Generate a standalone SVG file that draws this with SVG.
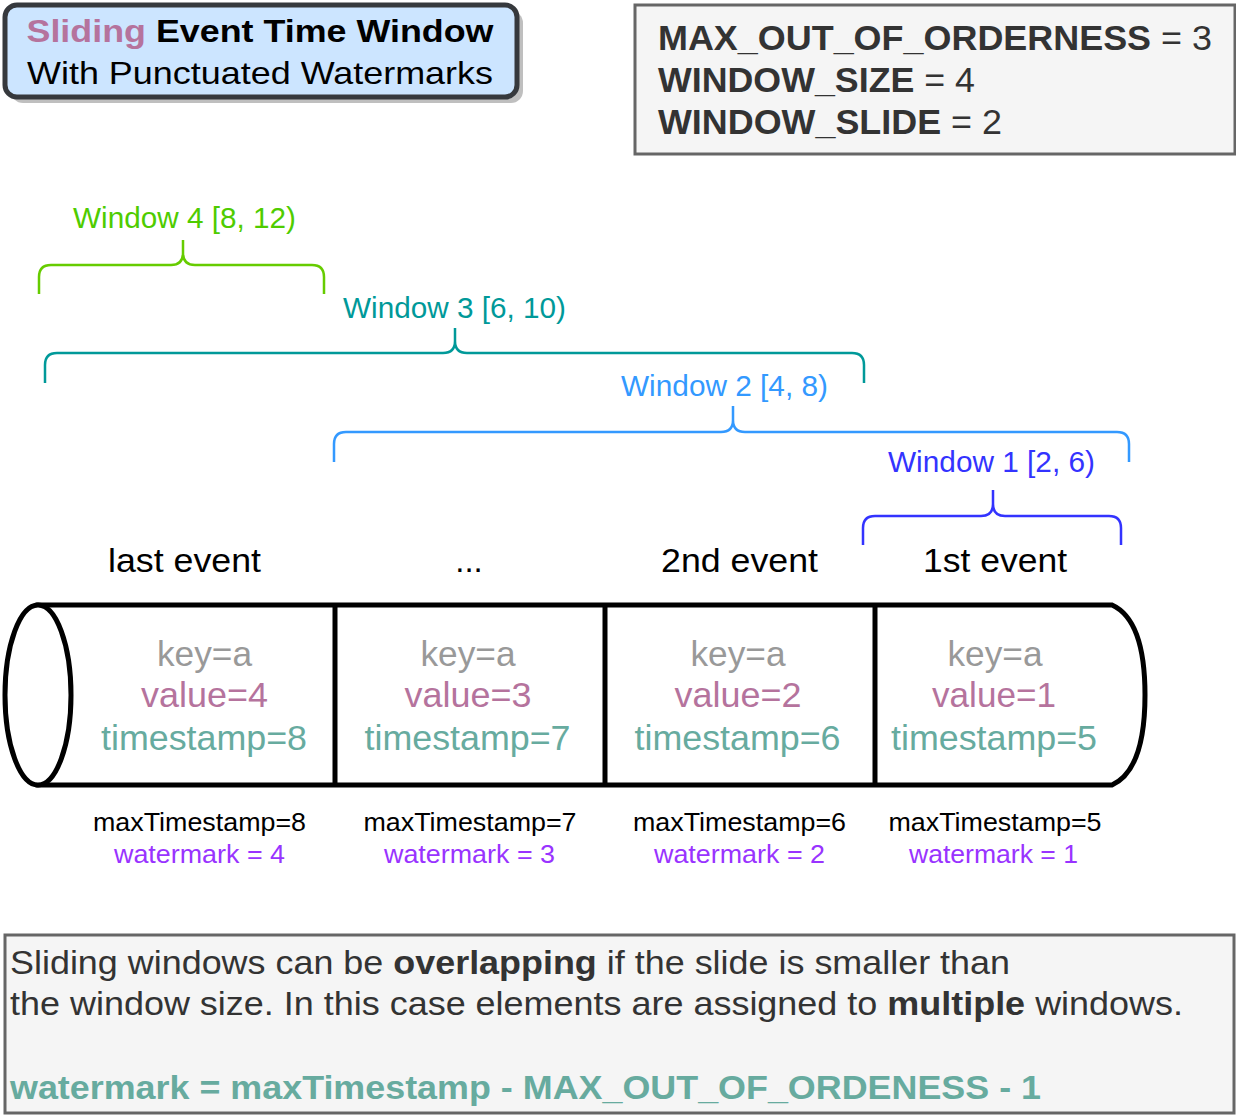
<svg xmlns="http://www.w3.org/2000/svg" width="1236" height="1116" viewBox="0 0 1236 1116">
<style>
text{font-family:"Liberation Sans",Arial,sans-serif}
.brace{fill:none;stroke-width:2.5;stroke-linecap:butt}
.wl{font-size:29px;text-anchor:middle}
.ev{font-size:33px;text-anchor:middle;fill:#000}
.cell{font-size:35px;text-anchor:middle}
.key{fill:#999999}
.val{fill:#B5739D}
.ts{fill:#67AB9F}
.mx{font-size:25px;text-anchor:middle;fill:#000}
.wm{font-size:25px;text-anchor:middle;fill:#9933FF}
.box{fill:#f5f5f5;stroke:#666666;stroke-width:3}
.dark{fill:#333333}
.cyl{fill:#ffffff;stroke:#000;stroke-width:5}
</style>
<rect width="1236" height="1116" fill="#ffffff"/>
<g id="title">
<rect x="11" y="11" width="512" height="92" rx="12" fill="#000" opacity="0.25"/>
<rect x="5" y="5" width="512" height="92" rx="12" fill="#cce5ff" stroke="#36393d" stroke-width="5"/>
<text x="260" y="42" text-anchor="middle" font-size="32" font-weight="bold" textLength="467" lengthAdjust="spacingAndGlyphs"><tspan fill="#B5739D">Sliding</tspan><tspan fill="#000"> Event Time Window</tspan></text>
<text x="260" y="84" text-anchor="middle" font-size="32" fill="#000" textLength="466" lengthAdjust="spacingAndGlyphs">With Punctuated Watermarks</text>
</g>
<g id="params">
<rect class="box" x="635" y="5" width="600" height="149"/>
<text class="dark" x="658" y="50" font-size="35" textLength="554" lengthAdjust="spacingAndGlyphs"><tspan font-weight="bold">MAX_OUT_OF_ORDERNESS</tspan> = 3</text>
<text class="dark" x="658" y="92" font-size="35" textLength="317" lengthAdjust="spacingAndGlyphs"><tspan font-weight="bold">WINDOW_SIZE</tspan> = 4</text>
<text class="dark" x="658" y="134" font-size="35" textLength="344" lengthAdjust="spacingAndGlyphs"><tspan font-weight="bold">WINDOW_SLIDE</tspan> = 2</text>
</g>
<g id="window4">
<path class="brace" stroke="#66CC00" d="M39,294 L39,277 Q39,265 51,265 L171,265 Q183,265 183,253 L183,240 M183,253 Q183,265 195,265 L312,265 Q324,265 324,277 L324,294"/>
<text class="wl" x="184.5" y="228" fill="#4FCC00" textLength="223" lengthAdjust="spacingAndGlyphs">Window 4 [8, 12)</text>
</g>
<g id="window3">
<path class="brace" stroke="#009999" d="M45,383 L45,365 Q45,353 57,353 L443,353 Q455,353 455,341 L455,328 M455,341 Q455,353 467,353 L852,353 Q864,353 864,365 L864,383"/>
<text class="wl" x="454.5" y="318" fill="#009999" textLength="223" lengthAdjust="spacingAndGlyphs">Window 3 [6, 10)</text>
</g>
<g id="window2">
<path class="brace" stroke="#3399FF" d="M334,462 L334,444 Q334,432 346,432 L721,432 Q733,432 733,420 L733,406 M733,420 Q733,432 745,432 L1117,432 Q1129,432 1129,444 L1129,462"/>
<text class="wl" x="724.5" y="396" fill="#3399FF" textLength="207" lengthAdjust="spacingAndGlyphs">Window 2 [4, 8)</text>
</g>
<g id="window1">
<path class="brace" stroke="#3333FF" d="M863,545 L863,528 Q863,516 875,516 L981,516 Q993,516 993,504 L993,490 M993,504 Q993,516 1005,516 L1109,516 Q1121,516 1121,528 L1121,545"/>
<text class="wl" x="991.5" y="472" fill="#3333FF" textLength="207" lengthAdjust="spacingAndGlyphs">Window 1 [2, 6)</text>
</g>
<g id="events">
<text class="ev" x="184.5" y="572" textLength="153" lengthAdjust="spacingAndGlyphs">last event</text>
<text class="ev" x="469" y="572">...</text>
<text class="ev" x="739.5" y="572" textLength="157" lengthAdjust="spacingAndGlyphs">2nd event</text>
<text class="ev" x="995" y="572" textLength="144" lengthAdjust="spacingAndGlyphs">1st event</text>
</g>
<g id="stream">
<path class="cyl" d="M38,605 L1112,605 Q1145,620 1145,695 Q1145,770 1112,785 L38,785 Z"/>
<ellipse cx="38" cy="695" rx="33" ry="90" fill="#fff" stroke="#000" stroke-width="5"/>
<line x1="335" y1="605" x2="335" y2="785" stroke="#000" stroke-width="5"/>
<line x1="605" y1="605" x2="605" y2="785" stroke="#000" stroke-width="5"/>
<line x1="875" y1="605" x2="875" y2="785" stroke="#000" stroke-width="5"/>
</g>
<g id="event4">
<text class="cell key" x="204.5" y="666" textLength="95" lengthAdjust="spacingAndGlyphs">key=a</text>
<text class="cell val" x="204.5" y="707" textLength="127" lengthAdjust="spacingAndGlyphs">value=4</text>
<text class="cell ts" x="204" y="750" textLength="206" lengthAdjust="spacingAndGlyphs">timestamp=8</text>
<text class="mx" x="199.5" y="831" textLength="213" lengthAdjust="spacingAndGlyphs">maxTimestamp=8</text>
<text class="wm" x="199.5" y="863" textLength="171" lengthAdjust="spacingAndGlyphs">watermark = 4</text>
</g>
<g id="event3">
<text class="cell key" x="468" y="666" textLength="95" lengthAdjust="spacingAndGlyphs">key=a</text>
<text class="cell val" x="468" y="707" textLength="127" lengthAdjust="spacingAndGlyphs">value=3</text>
<text class="cell ts" x="467.5" y="750" textLength="206" lengthAdjust="spacingAndGlyphs">timestamp=7</text>
<text class="mx" x="470" y="831" textLength="213" lengthAdjust="spacingAndGlyphs">maxTimestamp=7</text>
<text class="wm" x="469.5" y="863" textLength="171" lengthAdjust="spacingAndGlyphs">watermark = 3</text>
</g>
<g id="event2">
<text class="cell key" x="738" y="666" textLength="95" lengthAdjust="spacingAndGlyphs">key=a</text>
<text class="cell val" x="738" y="707" textLength="127" lengthAdjust="spacingAndGlyphs">value=2</text>
<text class="cell ts" x="737.5" y="750" textLength="206" lengthAdjust="spacingAndGlyphs">timestamp=6</text>
<text class="mx" x="739.5" y="831" textLength="213" lengthAdjust="spacingAndGlyphs">maxTimestamp=6</text>
<text class="wm" x="739.5" y="863" textLength="171" lengthAdjust="spacingAndGlyphs">watermark = 2</text>
</g>
<g id="event1">
<text class="cell key" x="995" y="666" textLength="95" lengthAdjust="spacingAndGlyphs">key=a</text>
<text class="cell val" x="994" y="707" textLength="124" lengthAdjust="spacingAndGlyphs">value=1</text>
<text class="cell ts" x="994" y="750" textLength="206" lengthAdjust="spacingAndGlyphs">timestamp=5</text>
<text class="mx" x="995" y="831" textLength="213" lengthAdjust="spacingAndGlyphs">maxTimestamp=5</text>
<text class="wm" x="993.5" y="863" textLength="169" lengthAdjust="spacingAndGlyphs">watermark = 1</text>
</g>
<g id="note">
<rect class="box" x="5" y="935" width="1229" height="178"/>
<text class="dark" x="10" y="974" font-size="33" textLength="1000" lengthAdjust="spacingAndGlyphs">Sliding windows can be <tspan font-weight="bold">overlapping</tspan> if the slide is smaller than</text>
<text class="dark" x="10" y="1015" font-size="33" textLength="1173" lengthAdjust="spacingAndGlyphs">the window size. In this case elements are assigned to <tspan font-weight="bold">multiple</tspan> windows.</text>
<text x="10" y="1099" font-size="33" font-weight="bold" fill="#67AB9F" textLength="1031" lengthAdjust="spacingAndGlyphs">watermark = maxTimestamp - MAX_OUT_OF_ORDENESS - 1</text>
</g>
</svg>
